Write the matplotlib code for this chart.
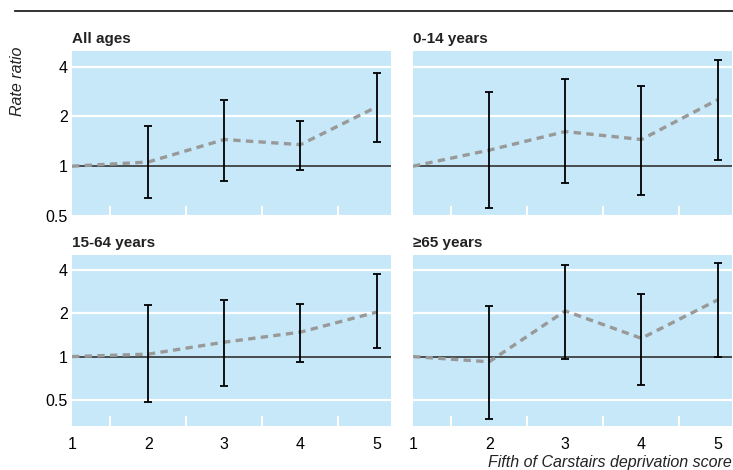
import numpy as np
import matplotlib
matplotlib.use("Agg")
import matplotlib.pyplot as plt
from matplotlib.ticker import FixedLocator, NullFormatter

plt.rcParams["font.family"] = ["Liberation Sans Narrow", "Liberation Sans", "DejaVu Sans"]

fifths = [1, 2, 3, 4, 5]
titles = ["All ages", "0-14 years", "15-64 years", "\u226565 years"]

all_rr = [1.0, 1.06, 1.45, 1.35, 2.28]
all_lo = [1.0, 0.64, 0.81, 0.95, 1.41]
all_hi = [1.0, 1.74, 2.51, 1.88, 3.66]

kids_rr = [1.0, 1.25, 1.62, 1.45, 2.52]
kids_lo = [1.0, 0.56, 0.79, 0.67, 1.09]
kids_hi = [1.0, 2.79, 3.36, 3.07, 4.39]

adult_rr = [1.0, 1.04, 1.26, 1.48, 2.04]
adult_lo = [1.0, 0.48, 0.62, 0.91, 1.14]
adult_hi = [1.0, 2.27, 2.48, 2.33, 3.76]

old_rr = [1.0, 0.92, 2.08, 1.34, 2.48]
old_lo = [1.0, 0.37, 0.96, 0.63, 1.0]
old_hi = [1.0, 2.26, 4.36, 2.71, 4.46]

series = [(all_rr, all_lo, all_hi), (kids_rr, kids_lo, kids_hi),
          (adult_rr, adult_lo, adult_hi), (old_rr, old_lo, old_hi)]

W, H = 733, 470
fig = plt.figure(figsize=(W / 100, H / 100), dpi=100)

bg = "#c6e8f8"
# panel boxes in pixels: left, top, right, bottom
cols = [(72, 391), (413, 732)]
rows = [(51, 216, (0.5, 4.97)), (255, 425.7, (0.33, 5.1))]

for i, (rr, lo, hi) in enumerate(series):
    r, c = divmod(i, 2)
    x0, x1 = cols[c]
    t, b, ylim = rows[r]
    ax = fig.add_axes([x0 / W, 1 - b / H, (x1 - x0) / W, (b - t) / H])
    ax.set_facecolor(bg)
    for s in ax.spines.values():
        s.set_visible(False)
    ax.set_yscale("log")
    ax.set_xlim(1, 5.19)
    ax.set_ylim(*ylim)

    for g in [0.5, 2, 4]:
        ax.axhline(g, color="white", lw=1.6, zorder=1)
    ax.axhline(1, color="#333333", lw=1.2, zorder=2)

    rr = np.array(rr)
    lo = np.array(lo)
    hi = np.array(hi)
    ax.plot(fifths, rr, color="#999999", lw=2.4, ls=(0, (2.2, 1.6)), zorder=3)
    ax.errorbar(fifths[1:], rr[1:], yerr=[rr[1:] - lo[1:], hi[1:] - rr[1:]],
                fmt="none", ecolor="black", elinewidth=1.3, capsize=2.6,
                capthick=1.3, zorder=4)

    ax.yaxis.set_major_locator(FixedLocator([0.5, 1, 2, 4]))
    ax.yaxis.set_minor_locator(FixedLocator([]))
    ax.yaxis.set_minor_formatter(NullFormatter())
    ax.set_xticks(fifths)
    ax.set_xticks([1.5, 2.5, 3.5, 4.5], minor=True)
    ax.tick_params(axis="x", which="major", length=0, labelsize=11.5, pad=8)
    ax.tick_params(axis="x", which="minor", direction="in", length=7,
                   width=1.5, color="white")
    ax.tick_params(axis="y", which="major", length=0, labelsize=11.5, pad=3)
    if c == 0:
        ax.set_yticklabels(["0.5", "1", "2", "4"])
    else:
        ax.set_yticklabels([])
    if r == 0:
        ax.set_xticklabels([])

    fig.text(x0 / W, 1 - (t - 12) / H, titles[i], fontsize=11,
             fontweight="bold", color="#222222", ha="left", va="center")

fig.add_artist(plt.Line2D([15 / W, 1], [1 - 10.7 / H, 1 - 10.7 / H],
                          color="#222222", lw=1.3))
fig.text(18 / W, 1 - 81 / H, "Rate ratio", rotation=90, fontstyle="italic",
         fontsize=11.5, ha="center", va="center", color="#222222")
fig.text(732 / W, 1 - 462 / H, "Fifth of Carstairs deprivation score",
         fontstyle="italic", fontsize=11.5, ha="right", va="center",
         color="#222222")

fig.savefig("out.png", dpi=100)
